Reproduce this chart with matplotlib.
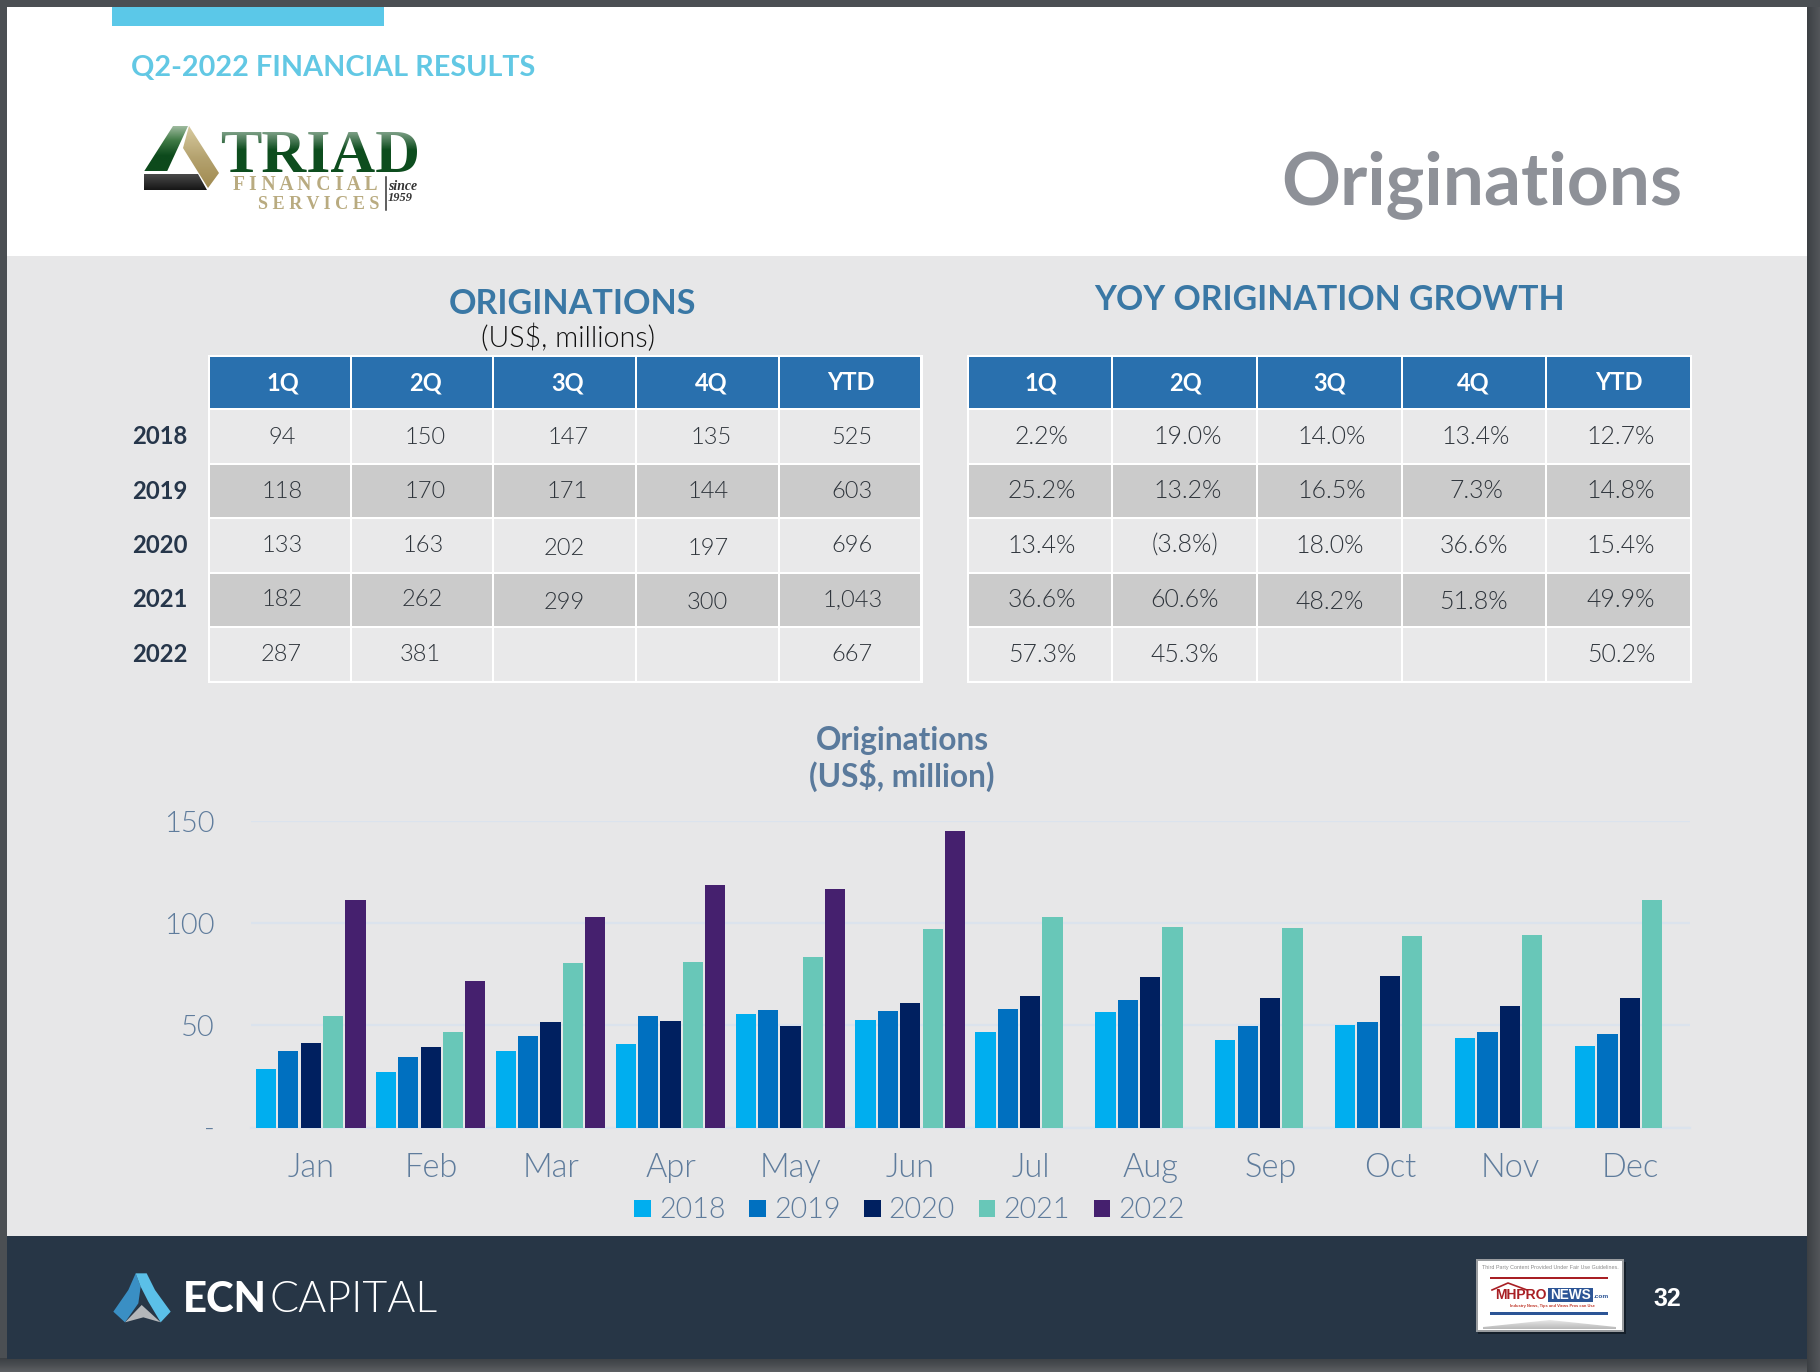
import numpy as np
import matplotlib
matplotlib.use("Agg")
import matplotlib.pyplot as plt
from matplotlib import font_manager as fm
from matplotlib.patches import Rectangle, Polygon
from matplotlib.colors import LinearSegmentedColormap

# ---------- data ----------
MONTHS = ["Jan", "Feb", "Mar", "Apr", "May", "Jun", "Jul", "Aug", "Sep", "Oct", "Nov", "Dec"]
YEARS = ["2018", "2019", "2020", "2021", "2022"]
V2018 = [28.6, 27.3, 37.7, 40.9, 55.7, 52.5, 46.6, 56.4, 43.1, 50.0, 44.1, 39.9]
V2019 = [37.7, 34.8, 44.8, 54.5, 57.6, 56.9, 58.0, 62.5, 49.7, 51.5, 46.6, 45.6]
V2020 = [41.4, 39.7, 51.5, 52.0, 49.7, 60.8, 64.6, 73.6, 63.3, 74.0, 59.6, 63.3]
V2021 = [54.7, 46.6, 80.5, 80.8, 83.5, 97.0, 102.9, 98.1, 97.6, 93.8, 94.1, 111.3]
V2022 = [111.3, 71.7, 102.9, 118.5, 116.5, 145.1, np.nan, np.nan, np.nan, np.nan, np.nan, np.nan]
BAR_COLORS = ["#00aeef", "#0070c0", "#002060", "#68c7b8", "#45206e"]

Y_TICKS = [0, 50, 100, 150]
Y_LABELS = ["-", "50", "100", "150"]

COL_HEADS = ["1Q", "2Q", "3Q", "4Q", "YTD"]
ORIG_ROWS = [
    ["94", "150", "147", "135", "525"],
    ["118", "170", "171", "144", "603"],
    ["133", "163", "202", "197", "696"],
    ["182", "262", "299", "300", "1,043"],
    ["287", "381", "", "", "667"],
]
GROWTH_ROWS = [
    ["2.2%", "19.0%", "14.0%", "13.4%", "12.7%"],
    ["25.2%", "13.2%", "16.5%", "7.3%", "14.8%"],
    ["13.4%", "(3.8%)", "18.0%", "36.6%", "15.4%"],
    ["36.6%", "60.6%", "48.2%", "51.8%", "49.9%"],
    ["57.3%", "45.3%", "", "", "50.2%"],
]

# ---------- layout (pixels of the 1820x1372 page) ----------
W, H = 1820, 1372
SANS = "Lato"
TICK_C = "#5f7c9c"
L_EDGES = [209, 350.6, 493.4, 636, 779, 921]
R_EDGES = [968.4, 1112.4, 1257.3, 1401.8, 1546, 1690.6]
ROW_EDGES = [356, 408.7, 463.7, 518, 572.7, 627, 681.7]
ROW_Y = [437, 491.5, 545.7, 599.7, 654.7]
L_HEAD_X = [283, 425.4, 568, 711, 850.6]
R_HEAD_X = [1041, 1185, 1329.5, 1473.5, 1619]
L_TEXT_X = [
    [282, 425.4, 568.2, 711, 852],
    [282.6, 425.4, 567, 708.4, 852],
    [282.6, 423, 564.6, 708, 852],
    [282.6, 422, 564.6, 707.3, 853],
    [281.6, 420.7, 0, 0, 852],
]
R_TEXT_X = [
    [1042, 1187.5, 1331.5, 1476, 1621],
    [1042, 1187.5, 1331.5, 1476, 1621],
    [1042, 1185, 1329.5, 1473.5, 1621],
    [1042, 1185, 1329.5, 1473.5, 1621],
    [1042, 1185, 0, 0, 1621],
]
L_DY = {(2, 2): 2.5, (2, 3): 2.5, (3, 2): 2.7, (3, 3): 2.7}
R_DY = {(3, 2): 2.7, (3, 3): 2.7}

# the Light cut of Lato, when its file can be found by name
_light = [f for f in fm.findSystemFonts() if "lato-light." in f.lower()]


def light_props(size):
    if _light:
        return fm.FontProperties(fname=_light[0], size=size)
    return fm.FontProperties(family=SANS, weight="normal", size=size)


fig = plt.figure(figsize=(W / 100, H / 100), dpi=100, facecolor="#4b4f53")
pg = fig.add_axes([0, 0, 1, 1], zorder=0)
pg.set_axis_off()


def rect(x0, y0, x1, y1, color, z=1, **kw):
    pg.add_patch(Rectangle((x0, y0), x1 - x0, y1 - y0, facecolor=color, edgecolor="none", zorder=z, **kw))


def grad_poly(points, colors, z=3, horizontal=False):
    xs = [p[0] for p in points]
    ys = [p[1] for p in points]
    cmap = LinearSegmentedColormap.from_list("g", colors)
    ramp = np.linspace(0, 1, 128).reshape(1, -1) if horizontal else np.linspace(0, 1, 128).reshape(-1, 1)
    im = pg.imshow(ramp, cmap=cmap, aspect="auto",
                   extent=(min(xs), max(xs), max(ys), min(ys)), zorder=z)
    patch = Polygon(points, closed=True, transform=pg.transData, facecolor="none", edgecolor="none")
    pg.add_patch(patch)
    im.set_clip_path(patch)


def fit(t, width):
    r = fig.canvas.get_renderer()
    w = t.get_window_extent(r).width
    t.set_fontsize(t.get_fontsize() * width / w)
    return t


def txt(x, y, s, size, color, weight="normal", ha="center", va="center", family=SANS, z=6, **kw):
    return pg.text(x, y, s, fontsize=size, color=color, fontweight=weight, ha=ha, va=va,
                   family=family, zorder=z, **kw)


def ltxt(x, y, s, size, color, ha="center", va="center", z=6):
    return pg.text(x, y, s, fontproperties=light_props(size), color=color, ha=ha, va=va, zorder=z)


# ---------- page ----------
grad_poly([(0, 1358), (W, 1358), (W, H), (0, H)], ["#3c4044", "#4a4d51", "#5e6164"], z=0.5)
grad_poly([(1807, 7), (W, 7), (W, 1372), (1807, 1372)], ["#3c4044", "#53565a"], z=0.6, horizontal=True)
rect(7, 7, 1807, 1358.5, "white")
rect(7, 256, 1807, 1236, "#e7e7e8", z=1.1)
rect(7, 1236, 1807, 1358.5, "#273646", z=1.2)
rect(112, 7, 384, 26, "#5bc8e8", z=1.3)

fit(txt(130.6, 68.5, "Q2-2022 FINANCIAL RESULTS", 22, "#62c8e4", "bold", ha="left"), 403)
fit(txt(1281, 204, "Originations", 50, "#8e9198", "bold", ha="left", va="baseline"), 402)

# ---------- Triad logo ----------
grad_poly([(173, 126), (188, 126), (167, 171.5), (144, 171.5)], ["#a5bfa5", "#3f7a45", "#0d4a1c", "#0d4a1c"])
grad_poly([(189, 126), (219, 173), (208, 188), (183, 148)], ["#d8cba0", "#b5a370", "#a08a50"])
grad_poly([(144, 174), (198, 174), (207, 190), (144, 190)], ["#4a4a4a", "#161616"])
fit(txt(220, 172, "TRIAD", 40, "#0d4d1e", "bold", ha="left", va="baseline", family="Liberation Serif"), 200)
pg.imshow(np.linspace(0.62, 0, 64).reshape(-1, 1), cmap=LinearSegmentedColormap.from_list("w", ["#ffffff00", "#ffffff"]),
          vmin=0, vmax=1, aspect="auto", extent=(216, 424, 150, 126), zorder=7)
fit(txt(233, 190, "F I N A N C I A L", 13, "#b9ab80", "bold", ha="left", va="baseline", family="Liberation Serif"), 145)
fit(txt(258, 209, "S E R V I C E S", 13, "#b9ab80", "bold", ha="left", va="baseline", family="Liberation Serif"), 122)
pg.plot([385.7, 385.7], [177, 210], color="#333333", lw=1.1, zorder=6)
fit(txt(388, 187, "since", 9.5, "#333333", "bold", ha="left", family="Liberation Serif", style="italic"), 29)
fit(txt(388, 198, "1959", 9.5, "#333333", "bold", ha="left", family="Liberation Serif", style="italic"), 25)


# ---------- tables ----------
def table(edges, head_x, text_x, rows, dy, size):
    rect(edges[0] - 1.5, ROW_EDGES[0] - 1.5, edges[-1] + 1.5, ROW_EDGES[-1] + 1.5, "white", z=2)
    for r in range(6):
        fill = "#2970ae" if r == 0 else ("#cbcbcb" if r in (2, 4) else "#e9e9ea")
        for c in range(5):
            rect(edges[c] + 1, ROW_EDGES[r] + 1.2, edges[c + 1] - 1, ROW_EDGES[r + 1] - 1.2, fill, z=3)
    for c, h in enumerate(COL_HEADS):
        txt(head_x[c], 390, h, 17, "white", "bold", va="baseline")
    for r, row in enumerate(rows):
        for c, s in enumerate(row):
            if s:
                ltxt(text_x[r][c], ROW_Y[r] + dy.get((r, c), 0), s, size, "#2f353c")


table(L_EDGES, L_HEAD_X, L_TEXT_X, ORIG_ROWS, L_DY, 17)
table(R_EDGES, R_HEAD_X, R_TEXT_X, GROWTH_ROWS, R_DY, 17.9)
for y, yr in zip(ROW_Y, YEARS):
    txt(160, y, yr, 17.2, "#26364a", "bold")

fit(txt(573, 304, "ORIGINATIONS", 26, "#3a78a5", "bold"), 248)
fit(ltxt(568, 338, "(US$, millions)", 20, "#111111"), 174)
fit(txt(1329, 300.5, "YOY ORIGINATION GROWTH", 26, "#3a78a5", "bold"), 470)
fit(txt(902, 740.5, "Originations", 20, "#5a7a9c", "bold"), 174)
fit(txt(902, 776, "(US$, million)", 20, "#5a7a9c", "bold"), 186)

# ---------- bar chart ----------
ax_l, ax_r, ax_top, ax_bot = 251, 1690, 821, 1127.7
ax = fig.add_axes([ax_l / W, 1 - ax_bot / H, (ax_r - ax_l) / W, (ax_bot - ax_top) / H], zorder=2)
ax.patch.set_alpha(0)
x = np.arange(len(MONTHS))
STEP, BW = 0.1864, 0.169
containers = []
for k, (vals, col) in enumerate(zip([V2018, V2019, V2020, V2021, V2022], BAR_COLORS)):
    containers.append(ax.bar(x + (k - 2) * STEP - 0.002, vals, BW, color=col, zorder=3))
ax.set_xlim(-0.5, 11.5)
ax.set_ylim(0, 150)
ax.set_yticks(Y_TICKS, Y_LABELS)
ax.set_xticks(x, MONTHS)
ax.tick_params(axis="both", length=0, labelcolor=TICK_C)
ax.tick_params(axis="x", pad=18.5)
ax.tick_params(axis="y", pad=26)
for lab in ax.get_yticklabels():
    lab.set_fontproperties(light_props(21))
for lab in ax.get_xticklabels():
    lab.set_fontproperties(light_props(23.5))
ax.grid(axis="y", color="#dbe3ed", lw=1.6, zorder=0)
ax.grid(axis="x", visible=False)
for name, sp in ax.spines.items():
    sp.set_visible(name == "bottom")
ax.spines["bottom"].set_color("#dbe3ed")
ax.spines["bottom"].set_linewidth(1.6)
leg = ax.legend(containers, YEARS, loc="center", bbox_to_anchor=(909.5 / W, 1 - 1210.5 / H),
                bbox_transform=fig.transFigure, ncols=5, frameon=False,
                handlelength=0.58, handleheight=0.58, handletextpad=0.28, columnspacing=0.83,
                prop=light_props(20.6), labelcolor=TICK_C)


# ---------- footer: ECN logo ----------
def z9(pts):
    return [(px / 3 + 100, py / 3 + 1260) for px, py in pts]


pg.add_patch(Polygon(z9([(125, 135), (182, 187), (130, 172), (75, 187)]), facecolor="#b4b7ba", zorder=4))
pg.add_patch(Polygon(z9([(107, 40), (122, 80), (115, 130), (75, 187), (40, 155), (85, 90)]), facecolor="#3a8fc4", zorder=4))
pg.add_patch(Polygon(z9([(107, 40), (140, 40), (165, 90), (212, 155), (182, 187), (145, 125), (122, 80)]), facecolor="#5bc0e8", zorder=4))
fit(txt(182.5, 1312, "ECN", 27, "white", "black", ha="left", va="baseline"), 84)
fit(ltxt(270, 1312, "CAPITAL", 26, "white", ha="left", va="baseline"), 168)
txt(1667.5, 1298.5, "32", 18, "white", "bold", family="Liberation Sans")

# ---------- footer: MHProNews badge ----------
rect(1478, 1262, 1626, 1334, "#15202b", z=3)
rect(1476, 1259, 1624, 1332, "#9a9da0", z=3.1)
rect(1478, 1261, 1622, 1330, "white", z=3.2)
fit(txt(1550, 1267, "Third Party Content Provided Under Fair Use Guidelines.", 5, "#8a8a8a", family="Liberation Sans"), 137)
rect(1490, 1277, 1608, 1279, "#a81f24", z=4)
rect(1490, 1312, 1608, 1314.5, "#2c5596", z=4)
pg.plot([1492, 1508, 1527], [1290, 1283, 1290], color="#a81f24", lw=1.2, zorder=5)
fit(txt(1495, 1295, "MHPRO", 13, "#a81f24", "bold", ha="left", family="Liberation Sans"), 52)
rect(1548, 1288, 1593, 1302, "#2c5596", z=4)
fit(txt(1570.5, 1295, "NEWS", 12, "white", "bold", family="Liberation Sans"), 41)
fit(txt(1594, 1297, ".com", 6.5, "#2c5596", "bold", ha="left", family="Liberation Sans"), 15)
fit(txt(1552, 1306.5, "Industry News, Tips and Views Pros can Use", 4.4, "#c0392b", "bold", family="Liberation Sans"), 86)
grad_poly([(1483, 1327), (1550, 1320), (1616, 1327), (1616, 1329), (1483, 1329)], ["#e8e8e8", "#b8b8b8"], z=4)

pg.set_xlim(0, W)
pg.set_ylim(H, 0)
fig.savefig("out.png", dpi=100, facecolor=fig.get_facecolor())
